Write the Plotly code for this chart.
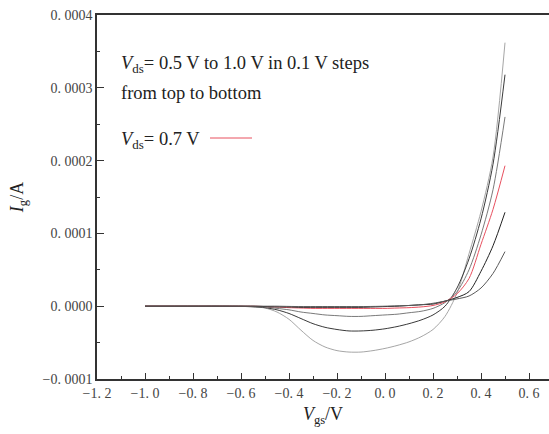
import plotly.graph_objects as go

vgs = [-1.0, -0.9, -0.8, -0.7, -0.6, -0.55, -0.5, -0.45, -0.4, -0.35, -0.3, -0.25, -0.2,
       -0.15, -0.1, -0.05, 0.0, 0.05, 0.1, 0.15, 0.2, 0.25, 0.3, 0.35, 0.4, 0.45, 0.5]

# gate current in units of 1e-4 A
ig_a = [0, 0, 0, 0, -0.003, -0.008, -0.025, -0.08, -0.18, -0.33, -0.47, -0.56, -0.61,
        -0.63, -0.63, -0.61, -0.58, -0.54, -0.49, -0.42, -0.32, -0.14, 0.18, 0.72, 1.3, 2.05, 3.62]
ig_b = [0, 0, 0, 0, -0.003, -0.008, -0.02, -0.05, -0.1, -0.17, -0.24, -0.29, -0.32,
        -0.34, -0.34, -0.33, -0.31, -0.28, -0.24, -0.19, -0.12, 0.0, 0.25, 0.65, 1.2, 1.95, 3.18]
ig_c = [0, 0, 0, 0, 0, -0.005, -0.01, -0.03, -0.05, -0.08, -0.1, -0.12, -0.13,
        -0.14, -0.14, -0.13, -0.12, -0.11, -0.09, -0.07, -0.03, 0.05, 0.2, 0.5, 0.98, 1.6, 2.6]
ig_red = [0, 0, 0, 0, 0, 0, -0.005, -0.01, -0.02, -0.025, -0.03, -0.03, -0.03,
          -0.03, -0.03, -0.03, -0.03, -0.025, -0.02, -0.01, 0.01, 0.06, 0.17, 0.38, 0.85, 1.33, 1.93]
ig_e = [0, 0, 0, 0, 0, 0, -0.005, -0.01, -0.01, -0.015, -0.015, -0.015, -0.015,
        -0.015, -0.015, -0.01, -0.005, 0.0, 0.01, 0.02, 0.03, 0.07, 0.12, 0.2, 0.48, 0.83, 1.29]
ig_f = [0, 0, 0, 0, 0, 0, 0, 0, -0.003, -0.005, -0.005, -0.005, -0.005,
        -0.005, -0.005, -0.003, 0.0, 0.005, 0.01, 0.02, 0.04, 0.07, 0.1, 0.14, 0.25, 0.45, 0.75]

series = [ig_a, ig_b, ig_c, ig_red, ig_e, ig_f]
colors = ["#a6a6a6", "#3a3a3a", "#7a7a7a", "#e8505f", "#222222", "#5a5a5a"]

xtick_vals = [-1.2, -1.0, -0.8, -0.6, -0.4, -0.2, 0.0, 0.2, 0.4, 0.6]
xtick_text = ["\u22121. 2", "\u22121. 0", "\u22120. 8", "\u22120. 6", "\u22120. 4", "\u22120. 2",
              "0. 0", "0. 2", "0. 4", "0. 6"]
ytick_vals = [-0.0001, 0.0, 0.0001, 0.0002, 0.0003, 0.0004]
ytick_text = ["\u22120. 0001", "0. 0000", "0. 0001", "0. 0002", "0. 0003", "0. 0004"]

fig = go.Figure()
for s, c in zip(series, colors):
    fig.add_trace(go.Scatter(x=vgs, y=[v * 1e-4 for v in s], mode="lines",
                             line=dict(color=c, width=1, shape="spline", smoothing=0.8),
                             showlegend=False, hoverinfo="skip"))

W, H = 549, 434
L, R, T, B = 97, 0, 15, 55
pw, ph = W - L - R, H - T - B

def px(xp):
    return (xp - L) / pw

def py(yp):
    return (H - B - yp) / ph

font_fam = "Liberation Serif, Times New Roman, serif"
axis_col = "#333333"

fig.update_layout(
    width=W, height=H,
    margin=dict(l=L, r=R, t=T, b=B),
    paper_bgcolor="white", plot_bgcolor="white",
    font=dict(family=font_fam, color="#333333"),
    xaxis=dict(range=[-1.2, -1.2 + pw / 240.0], showgrid=False, zeroline=False,
               showline=True, linecolor=axis_col, linewidth=1.5, mirror=True,
               ticks="inside", ticklen=6, tickwidth=1.2, tickcolor=axis_col,
               tickvals=xtick_vals, ticktext=xtick_text,
               tickfont=dict(family=font_fam, size=14, color="#444"),
               minor=dict(ticks="inside", ticklen=3, tickwidth=1.2, tickcolor=axis_col, dtick=0.1, tick0=-1.2),
               title=dict(text="<i>V</i><sub>gs</sub>/V", font=dict(family=font_fam, size=18, color="#222"),
                          standoff=8)),
    yaxis=dict(range=[-0.0001, 0.0004], showgrid=False, zeroline=False,
               showline=True, linecolor=axis_col, linewidth=1.5,
               ticks="inside", ticklen=7, tickwidth=1.2, tickcolor=axis_col,
               tickvals=ytick_vals, ticktext=ytick_text,
               tickfont=dict(family=font_fam, size=14, color="#444"),
               minor=dict(ticks="inside", ticklen=3, tickwidth=1.2, tickcolor=axis_col, dtick=0.00005, tick0=0),
               title=dict(text="<i>I</i><sub>g</sub>/A", font=dict(family=font_fam, size=18, color="#222"),
                          standoff=14)),
)

ann_font = dict(family=font_fam, size=18.5, color="#222")
fig.add_annotation(xref="paper", yref="paper", x=px(119), y=py(65), xanchor="left", yanchor="middle",
                   text="<i>V</i><sub>ds</sub>= 0.5 V to 1.0 V in 0.1 V steps", showarrow=False, font=ann_font)
fig.add_annotation(xref="paper", yref="paper", x=px(119), y=py(93), xanchor="left", yanchor="middle",
                   text="from top to bottom", showarrow=False, font=ann_font)
fig.add_annotation(xref="paper", yref="paper", x=px(119), y=py(140), xanchor="left", yanchor="middle",
                   text="<i>V</i><sub>ds</sub>= 0.7 V", showarrow=False, font=ann_font)
fig.add_shape(type="line", xref="paper", yref="paper", x0=px(210), x1=px(252), y0=py(138), y1=py(138),
              line=dict(color="#e8505f", width=1))

fig.write_html("out.html")
